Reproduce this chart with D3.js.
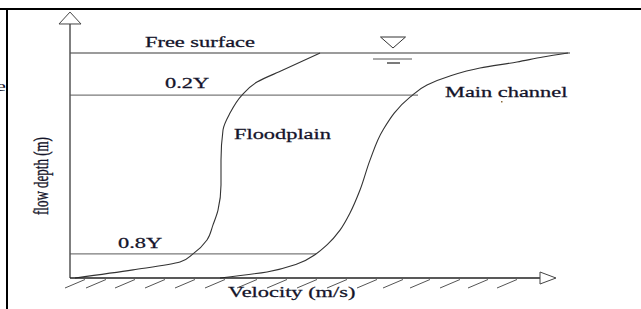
<!DOCTYPE html>
<html>
<head>
<meta charset="utf-8">
<script src="https://cdn.jsdelivr.net/npm/d3@7"></script>
<style>
	html, body { margin: 0; padding: 0; background: #fff; }
	svg { display: block; }
	text { font-family: "Liberation Serif", "DejaVu Serif", serif; fill: #14142a; }
</style>
</head>
<body>
<svg id="chart" width="641" height="309"></svg>
<script>
// velocity (0-100) x depth (0-100, 100 = free surface)
const floodplain = [
	[1, 0], [12.6, 3.6], [22, 7.1], [24.6, 10.7], [27.4, 16.9], [28.6, 23.6],
	[29.6, 30.2], [30.2, 41.3], [30.2, 52.4], [30.6, 65.8], [32, 73.3],
	[34.4, 81.3], [37.4, 87.1], [42.6, 92.4], [50, 100]
];
const mainChannel = [
	[30, 0], [39.4, 2.7], [45.4, 6.2], [49.2, 10.7], [51.4, 14.7], [54, 21.3],
	[56, 28.9], [58, 39.1], [60, 52.4], [62.6, 65.8], [68, 80.4],
	[71.4, 85.8], [76, 89.8], [82, 93.3], [89.4, 96], [94.6, 98.2], [99.6, 100]
];

const levelNames = ['Free surface', '0.2Y', '0.8Y'];
const levelDepths = [100, 81.3, 10.7];
const levelEnds = [100, 69.6, 49.2];
const levelLabelAt = [[15, 102.7], [19, 84.4], [9.6, 13.3]];

const curveNames = ['Floodplain', 'Main channel'];
const curveLabelAt = [[32.8, 61.8], [75, 80.4]];

const hatchAt = [-1, 3.2, 9, 15, 21, 27, 33.4, 39.4, 45.4, 51.4, 57.4, 62.6, 68, 74, 79.6, 85.4];

const xTitle = 'Velocity (m/s)';
const yTitle = 'flow depth (m)';
const waterMark = 64.6;

const svg = d3.select('#chart');

const x = d3.scaleLinear().domain([0, 100]).range([70, 570]);
const y = d3.scaleLinear().domain([0, 100]).range([278, 53]);

// frame (top and left border of the figure cell)
svg.append('line').attr('x1', 0).attr('x2', 641).attr('y1', 9).attr('y2', 9)
	.attr('stroke', '#000').attr('stroke-width', 2);
svg.append('line').attr('x1', 7).attr('x2', 7).attr('y1', 8).attr('y2', 309)
	.attr('stroke', '#000').attr('stroke-width', 2);
svg.append('text').attr('transform', 'translate(-4,91) scale(1.6,1)')
	.style('font-size', '14px').text('e');

// reference levels
svg.selectAll('line.level').data(levelDepths).join('line')
	.attr('class', 'level')
	.attr('x1', x(0)).attr('x2', (d, i) => x(levelEnds[i]))
	.attr('y1', d => y(d)).attr('y2', d => y(d))
	.attr('stroke', '#7a7a7a').attr('stroke-width', 1.3);

// velocity profiles
const line = d3.line().x(d => x(d[0])).y(d => y(d[1])).curve(d3.curveMonotoneY);
svg.selectAll('path.profile').data([floodplain, mainChannel]).join('path')
	.attr('class', 'profile')
	.attr('d', line)
	.attr('fill', 'none').attr('stroke', '#333').attr('stroke-width', 1.1);

// axes
const x0 = x(0), y0 = y(0);
svg.append('line').attr('x1', x0).attr('x2', x0).attr('y1', y0).attr('y2', y(112.9))
	.attr('stroke', '#555').attr('stroke-width', 1.5);
svg.append('path')
	.attr('d', `M${x0 - 11},${y(112.9)}L${x0},${y(118.2)}L${x0 + 11},${y(112.9)}Z`)
	.attr('fill', '#fff').attr('stroke', '#444').attr('stroke-width', 1);
svg.append('line').attr('x1', x0).attr('x2', x(94)).attr('y1', y0).attr('y2', y0)
	.attr('stroke', '#222').attr('stroke-width', 1.5);
svg.append('path')
	.attr('d', `M${x(94)},${y0 - 6}L${x(97.2)},${y0}L${x(94)},${y0 + 6}Z`)
	.attr('fill', '#fff').attr('stroke', '#444').attr('stroke-width', 1);

// bed hatching
svg.selectAll('line.hatch').data(hatchAt).join('line')
	.attr('class', 'hatch')
	.attr('x1', d => x(d)).attr('y1', y0 + 10)
	.attr('x2', d => x(d) + 20).attr('y2', y0 + 1.5)
	.attr('stroke', '#555').attr('stroke-width', 1);

// water surface symbol
const wx = x(waterMark), wy = y(100);
svg.append('path')
	.attr('d', `M${wx - 12.5},${wy - 16}L${wx + 12.5},${wy - 16}L${wx},${wy - 5}Z`)
	.attr('fill', '#fff').attr('stroke', '#333').attr('stroke-width', 1);
svg.append('line').attr('x1', wx - 20).attr('x2', wx + 19).attr('y1', wy + 6).attr('y2', wy + 6)
	.attr('stroke', '#555').attr('stroke-width', 1);
svg.append('line').attr('x1', wx - 6).attr('x2', wx + 7).attr('y1', wy + 10).attr('y2', wy + 10)
	.attr('stroke', '#333').attr('stroke-width', 1.3);

// labels (the source figure is stretched horizontally)
function label (t, v, d) {
	return svg.append('text')
		.attr('transform', `translate(${x(v)},${y(d)}) scale(1.6,1)`)
		.style('font-size', '14px')
		.style('stroke', '#14142a').style('stroke-width', 0.25)
		.text(t);
}
levelNames.forEach((t, i) => label(t, levelLabelAt[i][0], levelLabelAt[i][1]));
curveNames.forEach((t, i) => label(t, curveLabelAt[i][0], curveLabelAt[i][1]));
label(xTitle, 31.6, -8.4);

svg.append('text')
	.attr('transform', `translate(${x(-4.4)},${y(45.3)}) scale(1.6,1) rotate(-90)`)
	.style('font-size', '13px').style('text-anchor', 'middle')
	.style('stroke', '#14142a').style('stroke-width', 0.25)
	.text(yTitle);

// stray dot under "Main channel"
svg.append('rect').attr('x', 501).attr('y', 101).attr('width', 1.5).attr('height', 1.5)
	.attr('fill', '#8a6a3a');
</script>
</body>
</html>
